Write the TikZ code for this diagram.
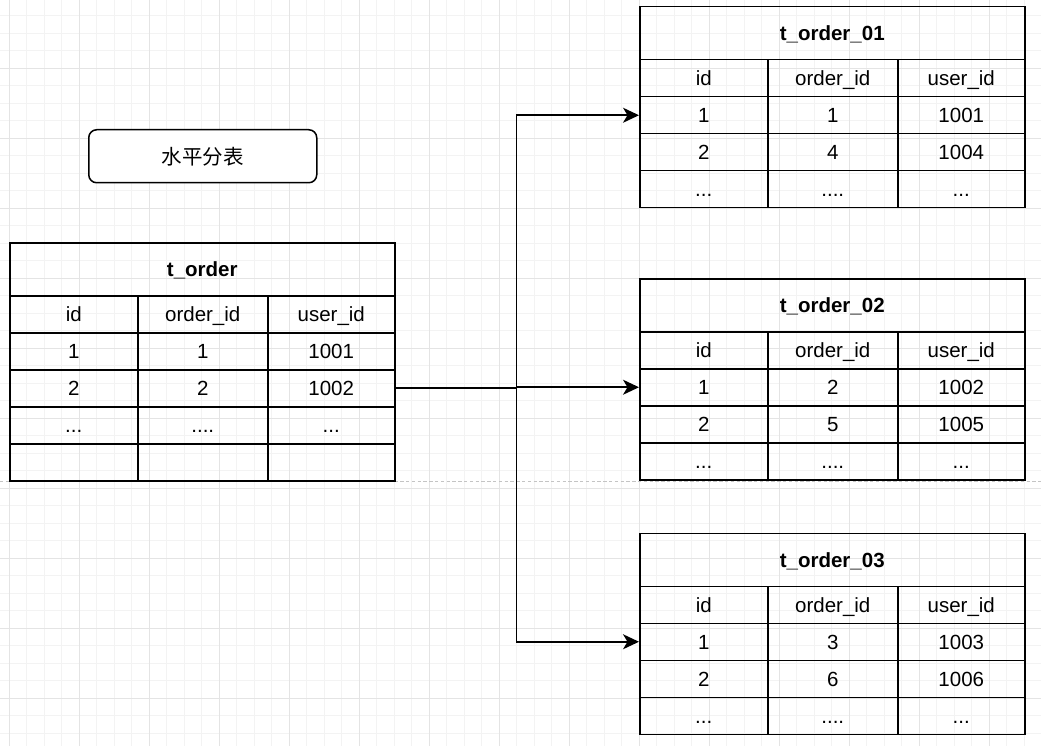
\documentclass[tikz,border=0pt]{standalone}
\usepackage{fontspec}
\setmainfont{Liberation Sans}
\newfontfamily\cjk{Noto Sans CJK SC}
\usetikzlibrary{arrows.meta}
\definecolor{gridminor}{HTML}{F3F3F3}
\definecolor{gridmajor}{HTML}{E4E4E4}
\definecolor{pagebreak}{HTML}{C4C4C4}
\tikzset{
  cell/.style={draw=black, line width=1.5pt, anchor=north west, inner sep=0pt,
    minimum height=37pt, text height=14.7pt, text depth=0pt,
    font=\fontsize{20.5}{24}\selectfont},
  colA/.style={cell, minimum width=128pt},
  colB/.style={cell, minimum width=130pt},
  colC/.style={cell, minimum width=127pt},
  tabtitle/.style={cell, minimum width=385pt, minimum height=53pt,
    font=\fontsize{20.5}{24}\selectfont\bfseries},
  conn/.style={draw=black, line width=1.7pt},
  arr/.style={conn, -{Stealth[length=16pt, width=15pt, inset=4.5pt]}},
  labelbox/.style={draw=black, line width=1.5pt, fill=white, rounded corners=8pt,
    minimum width=228pt, minimum height=53pt, anchor=north west, inner sep=0pt,
    font=\cjk\fontsize{20.5}{24}\selectfont},
}
\newcommand\tabrow[6]{%
  \node[colA] (#1a) at (#2, #3) {#4};
  \node[colB] (#1b) at (#2+128, #3) {#5};
  \node[colC] (#1c) at (#2+258, #3) {#6};
}
\begin{document}
\begin{tikzpicture}[x=1pt, y=-1pt]
  \useasboundingbox (0,0) rectangle (1041,746);
  % grid
  \foreach \k in {0,...,59} {
    \draw[gridminor, line width=0.9pt] (9.3+17.5*\k, 0) -- (9.3+17.5*\k, 746);
  }
  \foreach \k in {-1,...,42} {
    \draw[gridminor, line width=0.9pt] (0, 15.8+17.5*\k) -- (1041, 15.8+17.5*\k);
  }
  \foreach \k in {0,...,14} {
    \draw[gridmajor, line width=0.9pt] (9.3+70*\k, 0) -- (9.3+70*\k, 746);
  }
  \foreach \k in {0,...,10} {
    \draw[gridmajor, line width=0.9pt] (0, -1.7+70*\k) -- (1041, -1.7+70*\k);
  }
  \draw[pagebreak, line width=0.9pt, dash pattern=on 3.3pt off 2.5pt] (0,481.3) -- (1041,481.3);

  % label
  \node[labelbox] (label) at (88,129) {水平分表};

  % t_order
  \node[tabtitle] (t0) at (9,242) {t\_order};
  \tabrow{t0h}{9}{295}{id}{order\_id}{user\_id}
  \tabrow{t0r1}{9}{332}{1}{1}{1001}
  \tabrow{t0r2}{9}{369}{2}{2}{1002}
  \tabrow{t0r3}{9}{406}{...}{....}{...}
  \tabrow{t0r4}{9}{443}{}{}{}

  % t_order_01
  \node[tabtitle] (t1) at (639,6) {t\_order\_01};
  \tabrow{t1h}{639}{59}{id}{order\_id}{user\_id}
  \tabrow{t1r1}{639}{96}{1}{1}{1001}
  \tabrow{t1r2}{639}{133}{2}{4}{1004}
  \tabrow{t1r3}{639}{170}{...}{....}{...}

  % t_order_02
  \node[tabtitle] (t2) at (639,278) {t\_order\_02};
  \tabrow{t2h}{639}{331}{id}{order\_id}{user\_id}
  \tabrow{t2r1}{639}{368}{1}{2}{1002}
  \tabrow{t2r2}{639}{405}{2}{5}{1005}
  \tabrow{t2r3}{639}{442}{...}{....}{...}

  % t_order_03
  \node[tabtitle] (t3) at (639,532.5) {t\_order\_03};
  \tabrow{t3h}{639}{585.5}{id}{order\_id}{user\_id}
  \tabrow{t3r1}{639}{622.5}{1}{3}{1003}
  \tabrow{t3r2}{639}{659.5}{2}{6}{1006}
  \tabrow{t3r3}{639}{696.5}{...}{....}{...}

  % connectors
  \coordinate (jx) at (516.5, 0);
  \path (t0r2c.east -| jx) coordinate (j);
  \draw[conn] (t0r2c.east) -- (j);
  \draw[arr] (j) |- (t1r1a.west);
  \draw[arr] (j) |- (t2r1a.west);
  \draw[arr] (j) |- (t3r1a.west);
\end{tikzpicture}
\end{document}
